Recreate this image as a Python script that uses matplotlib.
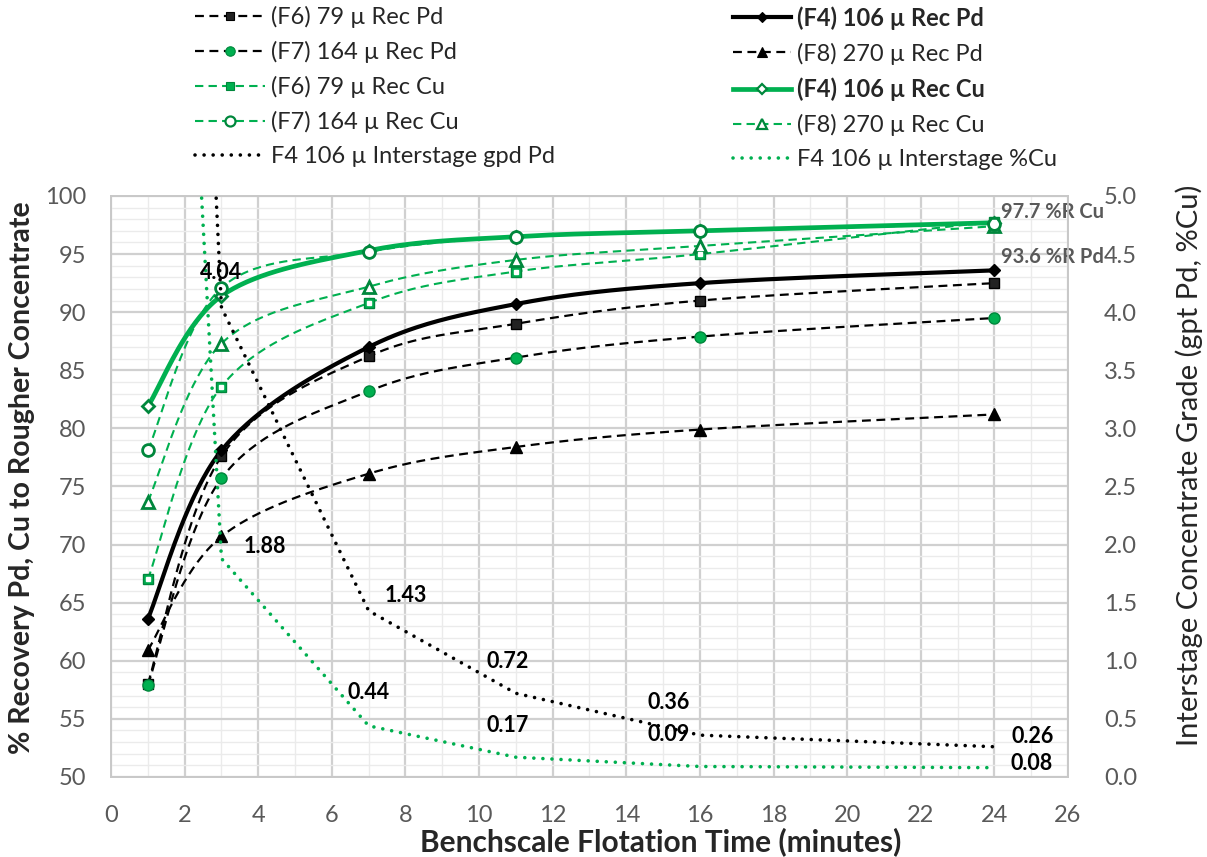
import numpy as np
import matplotlib
matplotlib.use("Agg")
import matplotlib.pyplot as plt
from matplotlib.lines import Line2D

plt.rcParams['font.family'] = ['Lato', 'DejaVu Sans']

# ---------------- data ----------------
time_min = [1, 3, 7, 11, 16, 24]

f6_rec_pd = [58.0, 77.6, 86.2, 89.0, 91.0, 92.5]
f7_rec_pd = [57.9, 75.7, 83.2, 86.1, 87.9, 89.5]
f4_rec_pd = [63.6, 78.1, 87.0, 90.7, 92.5, 93.6]
f8_rec_pd = [60.9, 70.7, 76.1, 78.4, 79.9, 81.2]

f6_rec_cu = [67.0, 83.6, 90.8, 93.5, 95.0, 97.8]
f7_rec_cu = [78.1, 92.1, 95.2, 96.5, 97.0, 97.6]
f4_rec_cu = [81.9, 91.4, 95.3, 96.5, 97.0, 97.7]
f8_rec_cu = [73.7, 87.3, 92.2, 94.5, 95.7, 97.4]

f4_inter_pd = [17.2, 4.04, 1.43, 0.72, 0.36, 0.26]
f4_inter_cu = [13.4, 1.88, 0.44, 0.17, 0.09, 0.08]

x_ticks = list(range(0, 27, 2))
y_left_ticks = list(range(50, 101, 5))
y_right_ticks = [0.0, 0.5, 1.0, 1.5, 2.0, 2.5, 3.0, 3.5, 4.0, 4.5, 5.0]

labels = {
    'f6pd': '(F6) 79 µ Rec Pd', 'f7pd': '(F7) 164 µ Rec Pd',
    'f6cu': '(F6) 79 µ Rec Cu', 'f7cu': '(F7) 164 µ Rec Cu',
    'ipd': 'F4 106 µ Interstage gpd Pd',
    'f4pd': '(F4) 106 µ Rec Pd', 'f8pd': '(F8) 270 µ Rec Pd',
    'f4cu': '(F4) 106 µ Rec Cu', 'f8cu': '(F8) 270 µ Rec Cu',
    'icu': 'F4 106 µ Interstage %Cu',
}

GREEN = '#00B050'
DKGREEN = '#00873C'
TICK = '#595959'
TXT = '#262626'

# ---------------- helpers ----------------
N = 40
def smooth(x, y, n=N):
    pts = np.column_stack([np.asarray(x, float), np.asarray(y, float)])
    out = []
    for i in range(len(pts) - 1):
        p0 = pts[i - 1] if i > 0 else pts[i]
        p1 = pts[i]
        p2 = pts[i + 1]
        p3 = pts[i + 2] if i + 2 < len(pts) else pts[i + 1]
        b1 = p1 + (p2 - p0) / 6.0
        b2 = p2 - (p3 - p1) / 6.0
        t = np.linspace(0, 1, n)[:, None]
        seg = ((1 - t) ** 3) * p1 + 3 * ((1 - t) ** 2) * t * b1 + 3 * (1 - t) * t ** 2 * b2 + t ** 3 * p2
        out.append(seg if i == 0 else seg[1:])
    return np.vstack(out)

DASH = (0, (4, 2.5))
DOT = (0, (0.01, 2.5))

fig = plt.figure(figsize=(12.07, 8.57), dpi=100)
ax = fig.add_axes([0.092, 0.0934, 0.7928, 0.6779])
ax2 = ax.twinx()

series = [
    # key, data, line color, lw, ls, marker, ms, mfc, mec, mew
    ('f8pd', f8_rec_pd, 'black', 1.6, DASH, '^', 8, 'black', 'black', 1.0),
    ('f6pd', f6_rec_pd, 'black', 1.6, DASH, 's', 7, '#222222', 'black', 1.0),
    ('f7pd', f7_rec_pd, 'black', 1.6, DASH, 'o', 8, GREEN, DKGREEN, 1.0),
    ('f4pd', f4_rec_pd, 'black', 3.0, '-', 'D', 6.5, 'black', 'black', 1.0),
    ('f6cu', f6_rec_cu, GREEN, 1.5, DASH, 's', 7.5, GREEN, DKGREEN, 1.0),
    ('f8cu', f8_rec_cu, GREEN, 1.5, DASH, '^', 9, 'white', DKGREEN, 2.0),
    ('f4cu', f4_rec_cu, GREEN, 3.4, '-', 'D', 6.5, 'white', DKGREEN, 2.0),
    ('f7cu', f7_rec_cu, GREEN, 1.5, DASH, 'o', 8.5, 'white', DKGREEN, 2.0),
]

handles = {}
for key, data, col, lw, ls, mk, ms, mfc, mec, mew in series:
    pts = smooth(time_min, data)
    ax.plot(pts[:, 0], pts[:, 1], color=col, lw=lw, ls=ls, zorder=3)
    ax.plot(time_min, data, ls='none', marker=mk, ms=ms, mfc=mfc, mec=mec, mew=mew, zorder=4)
    if key == 'f6cu':
        ax.plot(time_min, data, ls='none', marker='s', ms=3, mfc='white', mec='white', zorder=5)
    handles[key] = Line2D([], [], color=col, lw=lw, ls=ls, marker=mk, ms=ms * 0.85,
                          mfc=mfc, mec=mec, mew=mew * 0.8)

# interstage (straight dotted lines on secondary axis)
ax2.plot(time_min, f4_inter_pd, color='black', lw=2.6, ls=DOT, dash_capstyle='round', zorder=3)
ax2.plot(time_min, f4_inter_cu, color=GREEN, lw=2.6, ls=DOT, dash_capstyle='round', zorder=3)
handles['ipd'] = Line2D([], [], color='black', lw=2.6, ls=DOT, dash_capstyle='round')
handles['icu'] = Line2D([], [], color=GREEN, lw=2.6, ls=DOT, dash_capstyle='round')

# data labels for interstage series (points 2..6)
pd_offsets = [(0, 35, 'center'), (16, 15, 'left'), (-8, 32, 'center'), (-31, 33, 'center'), (17, 10, 'left')]
cu_offsets = [(22, 12, 'left'), (0, 33, 'center'), (-8, 32, 'center'), (-31, 32, 'center'), (16, 4, 'left')]
for vals, offs in ((f4_inter_pd, pd_offsets), (f4_inter_cu, cu_offsets)):
    for xv, yv, (dx, dy, ha) in zip(time_min[1:], vals[1:], offs):
        ax2.annotate(f"{yv:.2f}", xy=(xv, yv), xytext=(dx, dy), textcoords='offset pixels',
                     ha=ha, va='center', fontsize=15.5, fontweight='bold', color='black',
                     annotation_clip=False, zorder=6)

# end labels for F4 recovery
ax.annotate(f"{f4_rec_cu[-1]:.1f} %R Cu", xy=(time_min[-1], f4_rec_cu[-1]), xytext=(7, 11),
            textcoords='offset pixels', ha='left', va='center', fontsize=14.5,
            fontweight='bold', color=TICK, annotation_clip=False, zorder=6)
ax.annotate(f"{f4_rec_pd[-1]:.1f} %R Pd", xy=(time_min[-1], f4_rec_pd[-1]), xytext=(7, 13),
            textcoords='offset pixels', ha='left', va='center', fontsize=14.5,
            fontweight='bold', color=TICK, annotation_clip=False, zorder=6)

# ---------------- axes ----------------
ax.set_xlim(0, 26)
ax.set_ylim(50, 100)
ax2.set_ylim(0, 5)
ax.set_xticks(x_ticks)
ax.set_xticks(range(0, 27), minor=True)
ax.set_yticks(y_left_ticks)
ax.set_yticks(range(50, 101), minor=True)
ax2.set_yticks(y_right_ticks)
ax2.set_yticklabels([f"{v:.1f}" for v in y_right_ticks])

ax.grid(which='major', color='#D0D0D0', lw=1.6, zorder=0)
ax.grid(which='minor', color='#EBEBEB', lw=1.0, zorder=0)
ax.set_axisbelow(True)

ax.tick_params(which='both', length=0)
ax.tick_params(axis='y', pad=18, labelsize=17, labelcolor=TICK)
ax.tick_params(axis='x', pad=20, labelsize=17, labelcolor=TICK)
ax2.tick_params(which='both', length=0, pad=26, labelsize=17, labelcolor=TICK)

for a in (ax, ax2):
    for s in a.spines.values():
        s.set_color('#C8C8C8')
        s.set_linewidth(1.2)

ax.set_xlabel('Benchscale Flotation Time (minutes)', fontsize=21.5, fontweight='bold', color=TXT)
ax.xaxis.set_label_coords(0.574, -0.087)
ax.set_ylabel('% Recovery Pd, Cu to Rougher Concentrate', fontsize=20.5, fontweight='bold', color=TXT)
ax.yaxis.set_label_coords(-0.079, 0.515)
ax2.set_ylabel('Interstage Concentrate Grade (gpt Pd, %Cu)', fontsize=21, color=TXT)
ax2.yaxis.set_label_coords(1.112, 0.537)

# ---------------- legend ----------------
col1 = ['f6pd', 'f7pd', 'f6cu', 'f7cu', 'ipd']
col2 = ['f4pd', 'f8pd', 'f4cu', 'f8cu', 'icu']
leg_kw = dict(loc='upper left', frameon=False, fontsize=17, borderaxespad=0, borderpad=0,
              labelspacing=0.55, handletextpad=0.25, labelcolor=TXT)
leg1 = fig.legend([handles[k] for k in col1], [labels[k] for k in col1],
                  bbox_to_anchor=(195 / 1207, 1 - 6 / 857), handlelength=2.95, **leg_kw)
leg2 = fig.legend([handles[k] for k in col2], [labels[k] for k in col2],
                  bbox_to_anchor=(733 / 1207, 1 - 6 / 857), handlelength=2.45, **leg_kw)
for t, k in zip(leg2.get_texts(), col2):
    if k in ('f4pd', 'f4cu'):
        t.set_fontweight('bold')

fig.savefig('out.png', dpi=100, facecolor='white')
